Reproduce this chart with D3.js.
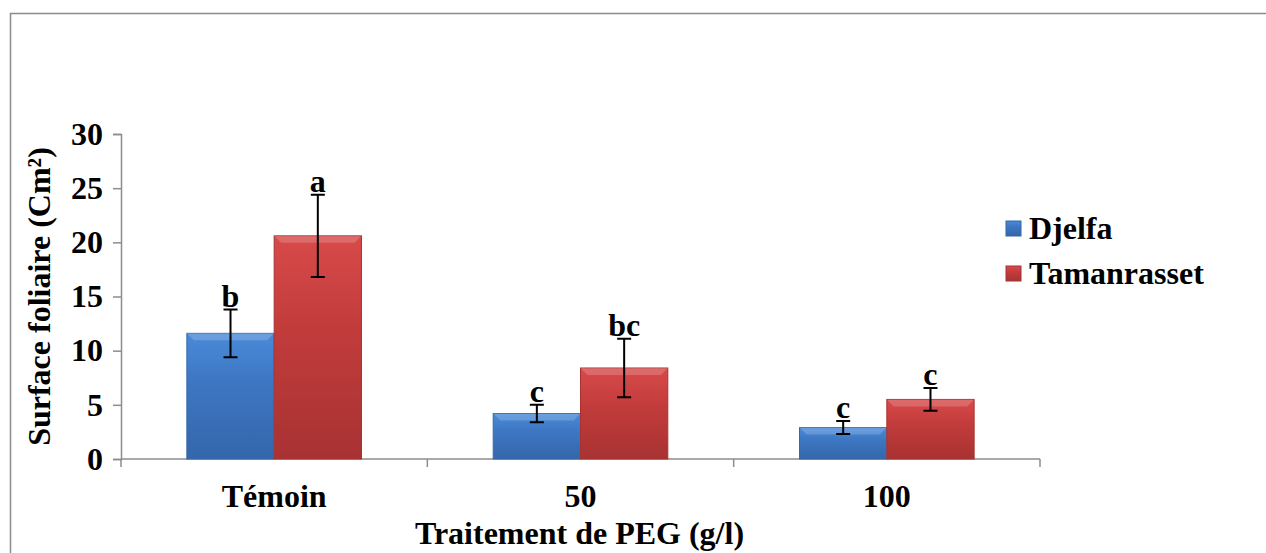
<!DOCTYPE html>
<meta charset="utf-8">
<script src="https://d3js.org/d3.v7.min.js"></script>
<style>
  body { margin: 0; background: #fff; }
  text { font-family: "Liberation Serif", "Times New Roman", serif; font-weight: bold; }
</style>
<div id="my_dataviz"></div>
<script>

    // data
    var categories = ["Témoin", "50", "100"];
    var seriesNames = ["Djelfa", "Tamanrasset"];
    var djelfa = [11.6, 4.2, 2.9];
    var tamanrasset = [20.6, 8.4, 5.5];
    var djelfaErr = [2.2, 0.8, 0.6];
    var tamanErr = [3.8, 2.7, 1.05];
    var djelfaLetters = ["b", "c", "c"];
    var tamanLetters = ["a", "bc", "c"];
    var yTicks = [0, 5, 10, 15, 20, 25, 30];

    var W = 1266, H = 553;
    var fs = 32;
    var margin = {top: 134, right: 226, bottom: 94, left: 121},
        width = W - margin.left - margin.right,
        height = H - margin.top - margin.bottom;

    var root = d3.select("#my_dataviz")
      .append("svg")
        .attr("width", W)
        .attr("height", H);

    // outer frame (runs off right and bottom)
    root.append("path")
      .attr("d", "M10.5," + H + "V13.5H" + W)
      .attr("fill", "none")
      .attr("stroke", "#8c8c8c")
      .attr("stroke-width", 1.5);

    var defs = root.append("defs");
    var colors = {
      Djelfa: ["#4a8ad8", "#3d76c2", "#3467aa"],
      Tamanrasset: ["#d84a4a", "#c33c3c", "#a83232"]
    };
    seriesNames.forEach(function(k) {
      var g = defs.append("linearGradient").attr("id", "grad-" + k)
        .attr("x1", 0).attr("y1", 0).attr("x2", 0).attr("y2", 1);
      g.append("stop").attr("offset", "0%").attr("stop-color", colors[k][0]);
      g.append("stop").attr("offset", "40%").attr("stop-color", colors[k][1]);
      g.append("stop").attr("offset", "100%").attr("stop-color", colors[k][2]);
    });

    var svg = root.append("g")
        .attr("transform", "translate(" + margin.left + "," + margin.top + ")");

    var x0 = d3.scaleBand()
      .domain(categories)
      .range([0, width])
      .paddingInner(0.43)
      .paddingOuter(0.215);

    var x1 = d3.scaleBand()
      .domain(seriesNames)
      .range([0, x0.bandwidth()]);

    var y = d3.scaleLinear()
      .domain([0, 30])
      .range([height, 0]);

    // Y axis
    var yAxis = svg.append("g")
      .call(d3.axisLeft(y).tickValues(yTicks).tickSize(8).tickPadding(10));
    yAxis.select(".domain").attr("stroke", "#8c8c8c").attr("stroke-width", 1.5);
    yAxis.selectAll(".tick line").attr("stroke", "#8c8c8c").attr("stroke-width", 1.5);
    yAxis.selectAll(".tick text").attr("font-size", fs).attr("fill", "#000")
      .attr("font-family", "Liberation Serif").attr("font-weight", "bold");

    // X axis: ticks on category boundaries
    var step = width / categories.length;
    var xLine = svg.append("g").attr("transform", "translate(0," + height + ")");
    xLine.append("line").attr("x1", 0).attr("x2", width)
      .attr("stroke", "#8c8c8c").attr("stroke-width", 1.5);
    xLine.selectAll(".xt").data(d3.range(categories.length + 1)).enter()
      .append("line")
        .attr("x1", function(i) { return i * step; })
        .attr("x2", function(i) { return i * step; })
        .attr("y1", 0).attr("y2", 8)
        .attr("stroke", "#8c8c8c").attr("stroke-width", 1.5);
    xLine.selectAll(".xl").data(categories).enter()
      .append("text")
        .attr("x", function(d) { return x0(d) + x0.bandwidth() / 2; })
        .attr("y", 48)
        .attr("text-anchor", "middle")
        .attr("font-size", fs)
        .text(function(d) { return d; });

    // bars
    var rows = categories.map(function(c, i) {
      return [
        {cat: c, key: "Djelfa", v: djelfa[i], e: djelfaErr[i], l: djelfaLetters[i]},
        {cat: c, key: "Tamanrasset", v: tamanrasset[i], e: tamanErr[i], l: tamanLetters[i]}
      ];
    });

    var groups = svg.selectAll(".grp").data(rows).enter()
      .append("g")
        .attr("transform", function(d) { return "translate(" + x0(d[0].cat) + ",0)"; });

    var bars = groups.selectAll(".bar").data(function(d) { return d; }).enter().append("g");

    bars.append("rect")
      .attr("x", function(d) { return x1(d.key); })
      .attr("y", function(d) { return y(d.v); })
      .attr("width", x1.bandwidth())
      .attr("height", function(d) { return height - y(d.v); })
      .attr("fill", function(d) { return "url(#grad-" + d.key + ")"; })
      .attr("stroke", function(d) { return colors[d.key][2]; })
      .attr("stroke-width", 1);

    // light bevel on top edge
    bars.append("path")
      .attr("d", function(d) {
        var xa = x1(d.key), xb = xa + x1.bandwidth(), yt = y(d.v), b = 7;
        return "M" + xa + "," + yt + "L" + xb + "," + yt + "L" + (xb - b) + "," + (yt + b) +
               "L" + (xa + b) + "," + (yt + b) + "Z";
      })
      .attr("fill", "#fff")
      .attr("fill-opacity", 0.18);

    // error bars
    var cap = 7;
    bars.append("path")
      .attr("d", function(d) {
        var cx = x1(d.key) + x1.bandwidth() / 2, yt = y(d.v + d.e), yb = y(d.v - d.e);
        return "M" + cx + "," + yt + "V" + yb +
               "M" + (cx - cap) + "," + yt + "H" + (cx + cap) +
               "M" + (cx - cap) + "," + yb + "H" + (cx + cap);
      })
      .attr("fill", "none")
      .attr("stroke", "#000")
      .attr("stroke-width", 2);

    // significance letters
    bars.append("text")
      .attr("x", function(d) { return x1(d.key) + x1.bandwidth() / 2; })
      .attr("y", function(d) { return y(d.v + d.e) - 3; })
      .attr("text-anchor", "middle")
      .attr("font-size", fs)
      .text(function(d) { return d.l; });

    // axis titles
    svg.append("text")
      .attr("x", width / 2 - 1)
      .attr("y", height + 85)
      .attr("text-anchor", "middle")
      .attr("font-size", fs)
      .text("Traitement de PEG (g/l)");

    svg.append("text")
      .attr("transform", "translate(" + (-71) + "," + (height / 2) + ") rotate(-90)")
      .attr("text-anchor", "middle")
      .attr("font-size", fs)
      .text("Surface foliaire (Cm²)");

    // legend
    var legend = root.append("g").attr("transform", "translate(1006,219)");
    legend.selectAll(".lg").data(seriesNames).enter()
      .append("g")
        .attr("transform", function(d, i) { return "translate(0," + (i * 45) + ")"; })
        .each(function(d) {
          var g = d3.select(this);
          g.append("rect").attr("x", 0).attr("y", 2).attr("width", 15).attr("height", 15)
            .attr("fill", "url(#grad-" + d + ")").attr("stroke", colors[d][2]);
          g.append("text").attr("x", 23).attr("y", 20).attr("font-size", fs).text(d);
        });

    </script>
